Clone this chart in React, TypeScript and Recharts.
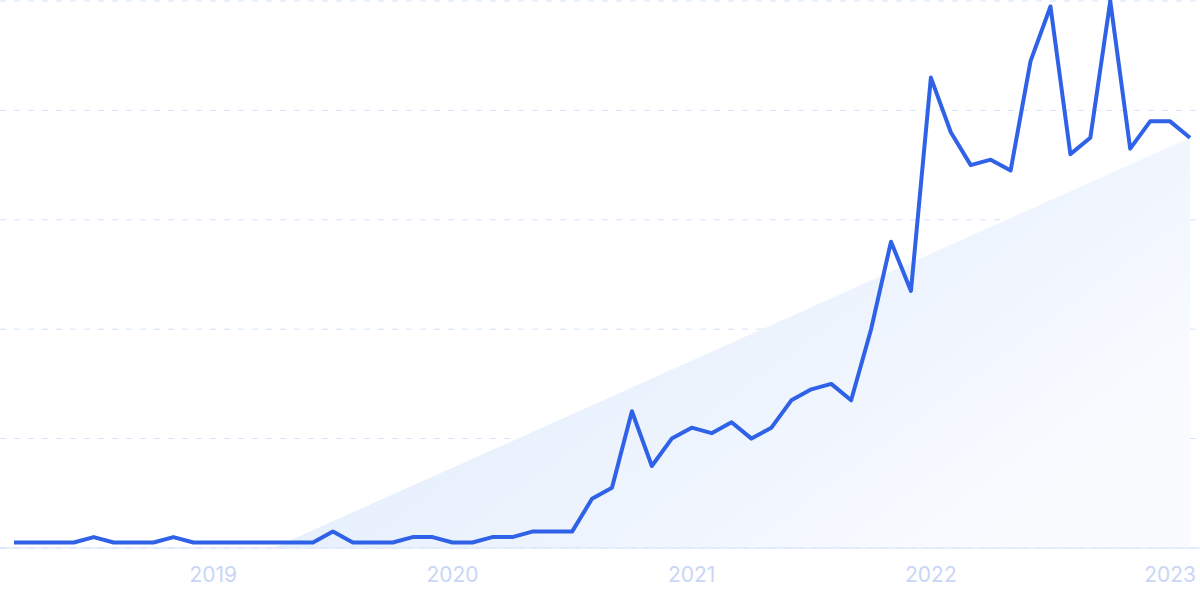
import React from 'react';
import { ComposedChart, Line, Area, XAxis, YAxis, CartesianGrid } from 'recharts';

const months = [
  '2018-03', '2018-04', '2018-05', '2018-06', '2018-07', '2018-08', '2018-09', '2018-10', '2018-11', '2018-12',
  '2019-01', '2019-02', '2019-03', '2019-04', '2019-05', '2019-06', '2019-07', '2019-08', '2019-09', '2019-10', '2019-11', '2019-12',
  '2020-01', '2020-02', '2020-03', '2020-04', '2020-05', '2020-06', '2020-07', '2020-08', '2020-09', '2020-10', '2020-11', '2020-12',
  '2021-01', '2021-02', '2021-03', '2021-04', '2021-05', '2021-06', '2021-07', '2021-08', '2021-09', '2021-10', '2021-11', '2021-12',
  '2022-01', '2022-02', '2022-03', '2022-04', '2022-05', '2022-06', '2022-07', '2022-08', '2022-09', '2022-10', '2022-11', '2022-12',
  '2023-01', '2023-02',
];

const interest = [
  1, 1, 1, 1, 2, 1, 1, 1, 2, 1,
  1, 1, 1, 1, 1, 1, 3, 1, 1, 1, 2, 2,
  1, 1, 2, 2, 3, 3, 3, 9, 11, 25, 15, 20,
  22, 21, 23, 20, 22, 27, 29, 30, 27, 40, 56, 47,
  86, 76, 70, 71, 69, 89, 99, 72, 75, 100, 73, 78,
  78, 75,
];

// trend line only has its two ends, the area joins them
const trendStart = { month: '2019-04', value: 0 };
const trendEnd = { month: '2023-02', value: 75 };

const yearTicks = ['2019-01', '2020-01', '2021-01', '2022-01', '2023-01'];
const yTicks = [0, 20, 40, 60, 80, 100];

const data = months.map((m, i) => ({
  month: m,
  interest: interest[i],
  trend: m === trendStart.month ? trendStart.value : m === trendEnd.month ? trendEnd.value : null,
}));

export default function App() {
  return (
    <div style={{ position: 'absolute', left: 0, top: 0, width: 1200, height: 600, background: '#fff' }}>
      <ComposedChart width={1200} height={600} data={data} margin={{ top: 1, right: 0, left: 0, bottom: 0 }}>
        <defs>
          <linearGradient id="trendFill" x1="0" y1="0" x2="1" y2="0.6">
            <stop offset="0%" stopColor="#d8e7fb" />
            <stop offset="100%" stopColor="#f9fbff" />
          </linearGradient>
        </defs>
        <CartesianGrid vertical={false} strokeDasharray="6 8" stroke="#d3e2fb" />
        <XAxis
          dataKey="month"
          ticks={yearTicks}
          tickFormatter={(v: string) => v.slice(0, 4)}
          tickLine={false}
          axisLine={{ stroke: '#d3e0fa' }}
          padding={{ left: 14, right: 10 }}
          height={52}
          tickMargin={13}
          tick={{ fill: '#c9d6f5', fontSize: 21, fontFamily: 'Inter' }}
        />
        <YAxis hide domain={[0, 100]} ticks={yTicks} />
        <Area
          type="linear"
          dataKey="trend"
          connectNulls
          stroke="none"
          fill="url(#trendFill)"
          fillOpacity={1}
          isAnimationActive={false}
        />
        <Line
          type="linear"
          dataKey="interest"
          stroke="#2f62e6"
          strokeWidth={4}
          strokeLinejoin="round"
          dot={false}
          activeDot={false}
          isAnimationActive={false}
        />
      </ComposedChart>
    </div>
  );
}
